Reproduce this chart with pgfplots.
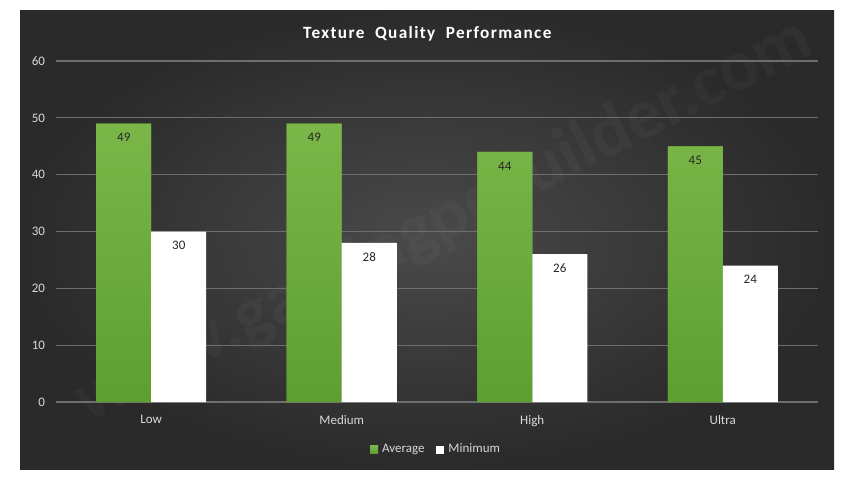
\documentclass[border=0pt]{standalone}
\usepackage{pgfplots}
\pgfplotsset{compat=1.18}
\usepackage{fontspec}
\setmainfont{Carlito}
\definecolor{panel}{HTML}{2A2A2A}
\definecolor{panelc}{HTML}{4A4A4A}
\definecolor{gridc}{HTML}{6E6E6E}
\definecolor{labc}{HTML}{D9D9D9}
\definecolor{gtop}{HTML}{7AB648}
\definecolor{gbot}{HTML}{5E9F32}
\definecolor{gleg}{HTML}{6AAB3C}
\begin{document}
\begin{tikzpicture}
\useasboundingbox (0,0) rectangle (426.5pt,239.5pt);
\fill[white] (0,0) rectangle (426.5pt,239.5pt);
\shade[inner color=panelc, outer color=panel] (10pt,5pt) rectangle (417pt,234.5pt);
\begin{scope}
\clip (10pt,5pt) rectangle (417pt,234.5pt);
\node[rotate=27, opacity=0.03, text=white, font=\bfseries\fontsize{36}{36}\selectfont] at (222pt,129pt) {www.gamingpcbuilder.com};
\end{scope}
\begin{axis}[
  at={(28pt,38.5pt)}, anchor=south west,
  scale only axis, width=381pt, height=170.5pt,
  ybar, bar width=27.5pt,
  ymin=0, ymax=60, ytick={0,10,...,60},
  xmin=-0.5, xmax=3.5,
  xtick=data, xticklabels={Low,Medium,High,Ultra},
  axis line style={draw=none},
  major tick length=0pt,
  ymajorgrids, grid style={gridc, line width=0.6pt},
  tick label style={text=labc, font=\fontsize{6.5}{7}\selectfont},
  /pgf/number format/assume math mode=true,
  yticklabel style={xshift=-2pt},
  xticklabel style={yshift=-3pt},
  title={\textbf{Texture\ \ Quality\ \ Performance}},
  title style={text=white, font=\fontsize{8.6}{9}\selectfont\addfontfeature{LetterSpace=8}, yshift=0.5pt, xshift=-4.5pt},
  nodes near coords,
  every node near coord/.append style={anchor=center, yshift=-7pt, text=black!85, font=\fontsize{6.5}{7}\selectfont},
  legend style={at={(0.5,-0.14)}, anchor=center, draw=none, fill=none, text=labc, font=\fontsize{6.5}{7}\selectfont, legend columns=2, /tikz/every even column/.append style={column sep=4pt}},
  legend image code/.code={\fill[#1] (0pt,-2pt) rectangle (4pt,2pt);},
]
\addplot[draw=none, top color=gtop, bottom color=gbot, bar shift=-13.75pt, fill=gleg] coordinates {(0,49) (1,49) (2,44) (3,45)};
\addplot[draw=none, fill=white, bar shift=13.75pt] coordinates {(0,30) (1,28) (2,26) (3,24)};
\legend{Average,Minimum}
\end{axis}
\end{tikzpicture}
\end{document}
